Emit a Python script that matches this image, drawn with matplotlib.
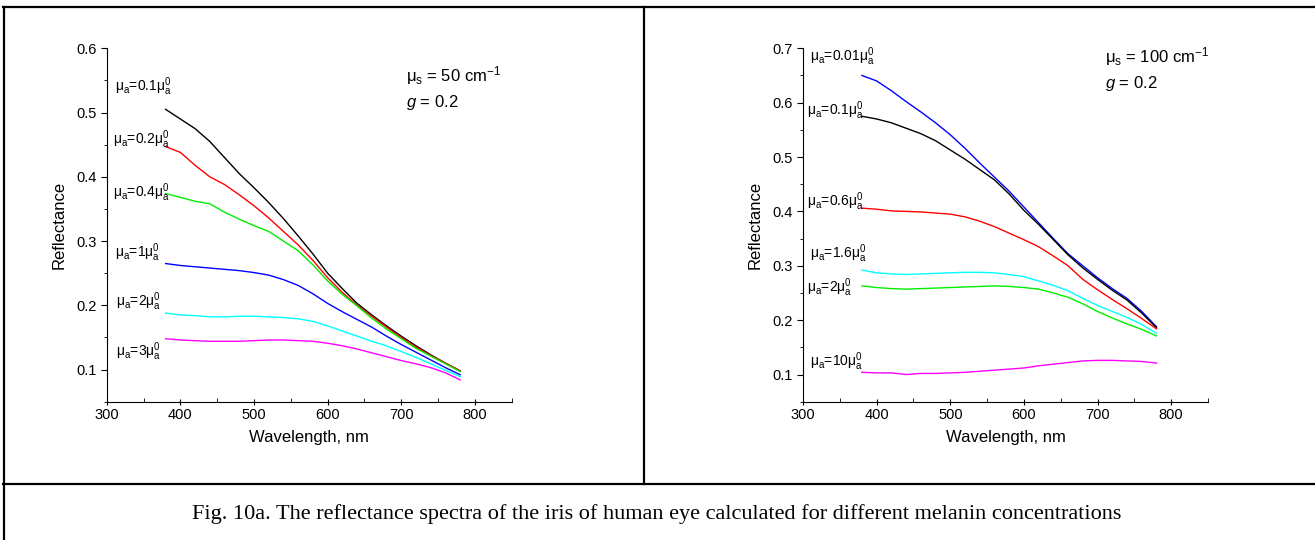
import matplotlib
matplotlib.use("Agg")
import matplotlib.pyplot as plt
from matplotlib.lines import Line2D

plt.rcParams['font.family'] = ['Liberation Sans', 'DejaVu Sans']
plt.rcParams['mathtext.fontset'] = 'custom'
plt.rcParams['mathtext.rm'] = 'Liberation Sans'
plt.rcParams['mathtext.it'] = 'Liberation Sans:italic'

# wavelength grid, nm
wl = [380, 400, 420, 440, 460, 480, 500, 520, 540, 560, 580,
      600, 620, 640, 660, 680, 700, 720, 740, 760, 780]

# left panel: mu_s = 50 cm-1
left_labels = ["0.1", "0.2", "0.4", "1", "2", "3"]
left_01 = [0.505, 0.490, 0.475, 0.455, 0.430, 0.405, 0.383, 0.360, 0.335, 0.308, 0.280,
           0.250, 0.226, 0.203, 0.185, 0.168, 0.152, 0.137, 0.123, 0.110, 0.098]
left_02 = [0.447, 0.438, 0.418, 0.400, 0.388, 0.372, 0.355, 0.336, 0.315, 0.294, 0.270,
           0.243, 0.220, 0.200, 0.183, 0.166, 0.150, 0.135, 0.122, 0.110, 0.098]
left_04 = [0.374, 0.368, 0.362, 0.358, 0.345, 0.334, 0.324, 0.315, 0.300, 0.285, 0.263,
           0.238, 0.217, 0.199, 0.180, 0.163, 0.148, 0.133, 0.121, 0.109, 0.097]
left_1 = [0.265, 0.262, 0.260, 0.258, 0.256, 0.254, 0.251, 0.247, 0.240, 0.231, 0.218,
          0.203, 0.190, 0.178, 0.166, 0.152, 0.139, 0.127, 0.115, 0.103, 0.092]
left_2 = [0.188, 0.185, 0.184, 0.182, 0.182, 0.183, 0.183, 0.182, 0.181, 0.179, 0.175,
          0.168, 0.160, 0.152, 0.144, 0.137, 0.128, 0.119, 0.109, 0.099, 0.089]
left_3 = [0.148, 0.146, 0.145, 0.144, 0.144, 0.144, 0.145, 0.146, 0.146, 0.145, 0.144,
          0.141, 0.137, 0.132, 0.126, 0.120, 0.114, 0.109, 0.103, 0.095, 0.084]
left_series = [left_01, left_02, left_04, left_1, left_2, left_3]
left_colors = ["black", "#ff0000", "#00ee00", "#0000ff", "#00ffff", "#ff00ff"]
left_label_xy = [(311, 0.540), (308, 0.457), (308, 0.375), (311, 0.282), (313, 0.206), (313, 0.128)]

# right panel: mu_s = 100 cm-1
right_labels = ["0.01", "0.1", "0.6", "1.6", "2", "10"]
right_001 = [0.650, 0.640, 0.622, 0.602, 0.583, 0.563, 0.541, 0.516, 0.489, 0.463, 0.437,
             0.408, 0.379, 0.350, 0.322, 0.300, 0.278, 0.258, 0.240, 0.216, 0.188]
right_01 = [0.575, 0.570, 0.563, 0.553, 0.543, 0.530, 0.513, 0.496, 0.477, 0.458, 0.432,
            0.402, 0.376, 0.348, 0.320, 0.296, 0.275, 0.255, 0.237, 0.213, 0.186]
right_06 = [0.406, 0.404, 0.401, 0.400, 0.399, 0.397, 0.395, 0.390, 0.382, 0.372, 0.360,
            0.348, 0.335, 0.318, 0.300, 0.275, 0.256, 0.238, 0.221, 0.203, 0.184]
right_16 = [0.292, 0.287, 0.285, 0.284, 0.285, 0.286, 0.287, 0.288, 0.288, 0.287, 0.284,
            0.280, 0.272, 0.264, 0.254, 0.240, 0.227, 0.216, 0.205, 0.192, 0.176]
right_2 = [0.263, 0.260, 0.258, 0.257, 0.258, 0.259, 0.260, 0.261, 0.262, 0.263, 0.262,
           0.260, 0.257, 0.250, 0.242, 0.230, 0.216, 0.204, 0.193, 0.183, 0.171]
right_10 = [0.104, 0.103, 0.103, 0.100, 0.102, 0.102, 0.103, 0.104, 0.106, 0.108, 0.110,
            0.112, 0.116, 0.119, 0.122, 0.125, 0.126, 0.126, 0.125, 0.124, 0.121]
right_series = [right_001, right_01, right_06, right_16, right_2, right_10]
right_colors = ["#0000ff", "black", "#ff0000", "#00ffff", "#00ee00", "#ff00ff"]
right_label_xy = [(309, 0.684), (306, 0.586), (306, 0.417), (309, 0.323), (306, 0.259), (309, 0.123)]

caption = ("Fig. 10a. The reflectance spectra of the iris of human eye calculated "
           "for different melanin concentrations")


def mu_label(k):
    return "μ$_\\mathregular{a}$=" + k + "μ$_\\mathregular{a}^\\mathregular{0}$"


def panel(ax, series, colors, labels, label_xy, ytop, mus):
    for y, c in zip(series, colors):
        ax.plot(wl, y, color=c, lw=1.0)
    for k, (x, y) in zip(labels, label_xy):
        ax.text(x, y, mu_label(k), fontsize=10, ha="left", va="center")
    ax.set_xlim(300, 850)
    ax.set_ylim(0.05, ytop)
    ax.set_xticks([300, 400, 500, 600, 700, 800])
    ax.set_xticks(range(350, 851, 100), minor=True)
    ax.set_yticks([round(0.1 * i, 1) for i in range(1, int(ytop * 10 + 0.5) + 1)])
    ax.set_yticks([0.05 + 0.1 * i for i in range(int(ytop * 10 + 0.5))], minor=True)
    ax.spines["top"].set_visible(False)
    ax.spines["right"].set_visible(False)
    ax.tick_params(axis="x", which="major", direction="inout", length=5, labelsize=10.5, pad=2)
    ax.tick_params(axis="x", which="minor", direction="in", length=3)
    ax.tick_params(axis="y", which="major", direction="out", length=4, labelsize=10.5)
    ax.tick_params(axis="y", which="minor", direction="out", length=2.5)
    ax.set_xlabel("Wavelength, nm", fontsize=12, labelpad=6)
    ax.set_ylabel("Reflectance", fontsize=12, labelpad=7)
    ax.text(mus[0], mus[1], "μ$_\\mathregular{s}$ = " + mus[2] + " cm$^\\mathregular{-1}$",
            fontsize=12, ha="left", va="center")
    ax.text(mus[0], mus[3], "$\\mathit{g}$ = 0.2", fontsize=12, ha="left", va="center")


fig = plt.figure(figsize=(13.15, 5.4), dpi=100)
W, H = 1315.0, 540.0

ax1 = fig.add_axes([106.7 / W, 1 - 401.7 / H, 405 / W, 353.4 / H])
panel(ax1, left_series, left_colors, left_labels, left_label_xy, 0.6, (707, 0.558, "50", 0.515))

ax2 = fig.add_axes([803 / W, 1 - 401.7 / H, 405 / W, 353.4 / H])
panel(ax2, right_series, right_colors, right_labels, right_label_xy, 0.7, (710, 0.6845, "100", 0.636))

# table frame around the two panels and caption
def hline(y, x0=3, x1=1315, lw=1.6):
    fig.add_artist(Line2D([x0 / W, x1 / W], [1 - y / H, 1 - y / H], color="black", lw=lw))

def vline(x, y0, y1, lw=1.6):
    fig.add_artist(Line2D([x / W, x / W], [1 - y0 / H, 1 - y1 / H], color="black", lw=lw))

hline(7)
hline(484)
vline(3.5, 7, 540)
vline(644, 7, 484)

fig.text(657 / W, 1 - 514 / H, caption, fontsize=16, family="Liberation Serif",
         ha="center", va="center")

fig.savefig("out.png", dpi=100)
